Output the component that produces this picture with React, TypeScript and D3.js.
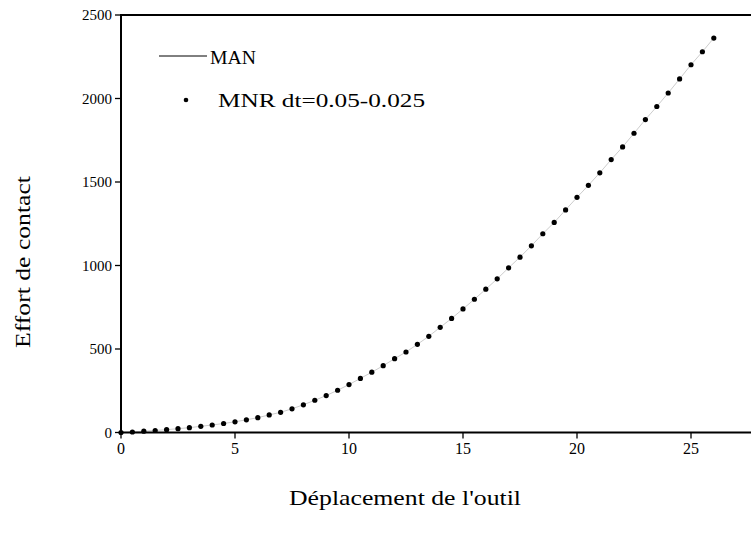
import React from "react";
import * as d3 from "d3";

const displacement = [
  0, 0.5, 1, 1.5, 2, 2.5, 3, 3.5, 4, 4.5, 5, 5.5, 6, 6.5, 7, 7.5, 8, 8.5, 9, 9.5,
  10, 10.5, 11, 11.5, 12, 12.5, 13, 13.5, 14, 14.5, 15, 15.5, 16, 16.5, 17, 17.5,
  18, 18.5, 19, 19.5, 20, 20.5, 21, 21.5, 22, 22.5, 23, 23.5, 24, 24.5, 25, 25.5, 26,
];
const effortMNR = [
  0, 3, 8, 12, 17, 23, 29, 37, 45, 54, 64, 76, 89, 105, 121, 142, 166, 193, 221, 253,
  287, 324, 361, 400, 442, 482, 528, 576, 630, 683, 740, 798, 858, 920, 986, 1050,
  1118, 1190, 1258, 1333, 1408, 1480, 1555, 1634, 1710, 1792, 1874, 1952, 2033, 2117, 2202, 2280, 2362,
];
const effortMAN = effortMNR;
const xTicks = [0, 5, 10, 15, 20, 25];
const yTicks = [0, 500, 1000, 1500, 2000, 2500];
const legendLabels = ["MAN", "MNR dt=0.05-0.025"];
const xTitle = "Déplacement de l'outil";
const yTitle = "Effort de contact";

const W = 751;
const H = 541;
const FONT = "'Liberation Serif', 'DejaVu Serif', serif";

export default function App() {
  const x = d3.scaleLinear().domain([0, 30]).range([121, 121 + 30 * 22.8]);
  const y = d3.scaleLinear().domain([0, 2500]).range([432.5, 15]);
  const line = d3
    .line<number>()
    .x((_, i) => x(displacement[i]))
    .y((d) => y(d));
  const x0 = x(0);
  const y0 = y(0);
  const xEnd = W + 5;

  return (
    <svg
      width={W}
      height={H}
      style={{ position: "absolute", left: 0, top: 0, background: "#fff" }}
      fontFamily={FONT}
    >
      <rect x={0} y={0} width={W} height={H} fill="#fff" />
      {/* MAN analytical line (faint, under the dots) */}
      <path d={line(effortMAN) || ""} fill="none" stroke="#999" strokeWidth={0.5} />
      {/* MNR dots */}
      {effortMNR.map((v, i) => (
        <circle key={i} cx={x(displacement[i])} cy={y(v)} r={2.6} fill="#000" />
      ))}
      {/* axes */}
      <line x1={x0} y1={y(2500)} x2={xEnd} y2={y(2500)} stroke="#000" strokeWidth={2} />
      <line x1={x0} y1={y(2500) - 1} x2={x0} y2={y0 + 1} stroke="#000" strokeWidth={2} />
      <line x1={x0 - 1} y1={y0} x2={xEnd} y2={y0} stroke="#000" strokeWidth={2.2} />
      {yTicks.map((t) => (
        <g key={t}>
          <line x1={x0 - 6} x2={x0} y1={y(t)} y2={y(t)} stroke="#000" strokeWidth={1.3} />
          <text x={x0 - 9} y={y(t)} dy="0.35em" textAnchor="end" fontSize={15} fill="#000">
            {t}
          </text>
        </g>
      ))}
      {xTicks.map((t) => (
        <g key={t}>
          <line x1={x(t)} x2={x(t)} y1={y0} y2={y0 + 6} stroke="#000" strokeWidth={1.3} />
          <text x={x(t)} y={y0 + 21} textAnchor="middle" fontSize={16} fill="#000">
            {t}
          </text>
        </g>
      ))}
      {/* titles */}
      <text x={405} y={505} textAnchor="middle" fontSize={22} fill="#000" textLength={232} lengthAdjust="spacingAndGlyphs">
        {xTitle}
      </text>
      <text
        transform={`translate(30,262) rotate(-90)`}
        textAnchor="middle"
        fontSize={22}
        fill="#000"
        textLength={172}
        lengthAdjust="spacingAndGlyphs"
      >
        {yTitle}
      </text>
      {/* legend */}
      <line x1={159} x2={207} y1={56} y2={56} stroke="#000" strokeWidth={1} />
      <text x={210} y={64} fontSize={19} fill="#000" textLength={46} lengthAdjust="spacingAndGlyphs">
        {legendLabels[0]}
      </text>
      <circle cx={186} cy={100} r={2.3} fill="#000" />
      <text x={218} y={107} fontSize={19} fill="#000" textLength={207} lengthAdjust="spacingAndGlyphs">
        {legendLabels[1]}
      </text>
    </svg>
  );
}
